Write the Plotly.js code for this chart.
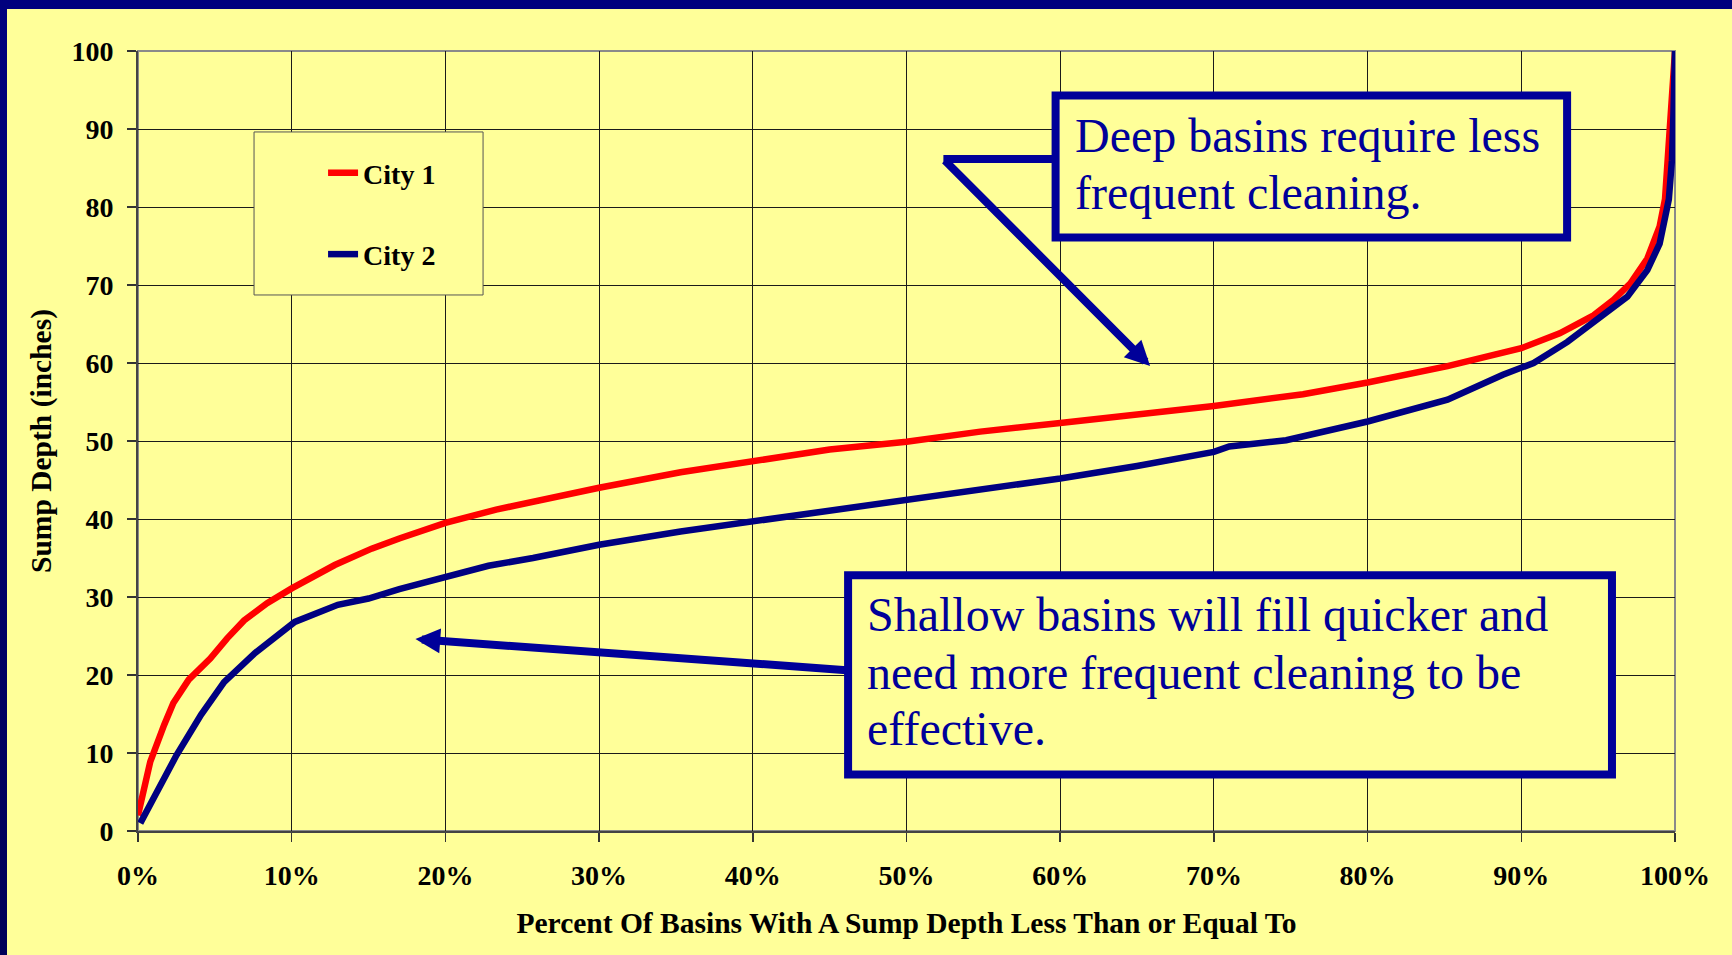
<!DOCTYPE html>
<html>
<head>
<meta charset="utf-8">
<script src="https://cdn.plot.ly/plotly-3.0.1.min.js"></script>
<style>
  html, body { margin: 0; padding: 0; width: 1732px; height: 955px; overflow: hidden;
    background: linear-gradient(to bottom, #00007e, #000058); }
  #chart { position: absolute; left: 7px; top: 9px; width: 1725px; height: 946px; }
</style>
</head>
<body>
<div id="chart"></div>
<script>
// ---- Data ----
const seriesNames = ['City 1', 'City 2'];

const city1Pct = [0, 0.8, 1.7, 2.3, 3.3, 4.7, 5.8, 6.9, 8.4, 10, 12.8, 15.2, 17, 20, 23.3, 26.8, 30, 35.3, 40, 45, 50, 54.8, 60, 65, 70, 75.8, 80, 85.2, 90, 92.5, 94.7, 96, 97.1, 98.2, 99, 99.35, 99.6, 99.8, 100];
const city1Depth = [2, 8.9, 13.6, 16.4, 19.4, 22.1, 24.7, 27, 29.2, 31.1, 34.1, 36.2, 37.5, 39.5, 41.2, 42.7, 44, 46, 47.4, 48.9, 49.9, 51.2, 52.3, 53.4, 54.5, 56, 57.5, 59.6, 61.9, 63.8, 66.1, 68.1, 70.2, 73.4, 77.5, 81, 89, 94, 100];

const city2Pct = [0.15, 1.2, 2.5, 4.1, 5.6, 7.6, 10.2, 13, 15, 17, 20, 22.8, 25.7, 30, 35.3, 40, 45, 50, 54.8, 60, 65, 70, 71, 74.7, 80, 85.2, 88.8, 90.8, 93, 94.9, 96.9, 98.2, 99, 99.6, 99.8, 99.9, 100];
const city2Depth = [1, 5, 9.7, 14.9, 19.1, 22.8, 26.8, 29, 29.8, 31, 32.6, 34, 35, 36.7, 38.4, 39.7, 41, 42.4, 43.9, 45.2, 46.8, 48.6, 49.3, 50.1, 52.5, 55.3, 58.5, 60, 62.7, 65.5, 68.5, 71.9, 75.3, 81, 86, 92, 100];

const xTitle = 'Percent Of Basins With A Sump Depth Less Than or Equal To';
const yTitle = 'Sump Depth (inches)';

const note1Lines = ['Deep basins require less', 'frequent cleaning.'];
const note2Lines = ['Shallow basins will fill quicker and', 'need more frequent cleaning to be', 'effective.'];

// ---- Styling / placement ----
const serif = 'Liberation Serif, Times New Roman, serif';
const ink = '#000099';
const bg = '#FFFF99';

const traces = [
  { x: city1Pct, y: city1Depth, name: seriesNames[0], type: 'scatter', mode: 'lines',
    line: { color: '#FF0000', width: 6.5 }, legendgroup: 'a' },
  { x: city2Pct, y: city2Depth, name: seriesNames[1], type: 'scatter', mode: 'lines',
    line: { color: '#000080', width: 6.5 }, legendgroup: 'b' }
];

const note1TextX = 60.85, note1TextY = [89.2, 81.9];
const note2TextX = 47.3, note2TextY = [27.7, 20.35, 13.15];

const annotations = [];
note1Lines.forEach((t, i) => annotations.push({
  x: note1TextX, y: note1TextY[i], xref: 'x', yref: 'y', text: t, showarrow: false,
  xanchor: 'left', yanchor: 'middle', font: { family: serif, size: 48, color: ink }
}));
note2Lines.forEach((t, i) => annotations.push({
  x: note2TextX, y: note2TextY[i], xref: 'x', yref: 'y', text: t, showarrow: false,
  xanchor: 'left', yanchor: 'middle', font: { family: serif, size: 48, color: ink }
}));
// arrows
annotations.push({
  x: 65.85, y: 59.6, ax: 52.4, ay: 86.15, xref: 'x', yref: 'y', axref: 'x', ayref: 'y',
  text: '', showarrow: true, arrowhead: 2, arrowsize: 0.62, arrowwidth: 8, arrowcolor: ink, standoff: 0
});
annotations.push({
  x: 18.05, y: 24.6, ax: 46.2, ay: 20.6, xref: 'x', yref: 'y', axref: 'x', ayref: 'y',
  text: '', showarrow: true, arrowhead: 2, arrowsize: 0.62, arrowwidth: 8, arrowcolor: ink, standoff: 0
});

const shapes = [
  // plot frame (top/right light grey)
  { type: 'rect', xref: 'paper', yref: 'paper', x0: 0, x1: 1, y0: 0, y1: 1,
    line: { color: '#8a8a8a', width: 2 }, layer: 'below' },
  // legend frame
  { type: 'rect', xref: 'paper', yref: 'paper', x0: 0.0755, x1: 0.2245, y0: 0.6872, y1: 0.8962,
    fillcolor: bg, line: { color: '#555555', width: 1 }, layer: 'above' },
  // note boxes
  { type: 'rect', xref: 'x', yref: 'y', x0: 59.7, x1: 92.98, y0: 76.1, y1: 94.3,
    fillcolor: bg, line: { color: ink, width: 8 }, layer: 'above' },
  { type: 'rect', xref: 'x', yref: 'y', x0: 46.2, x1: 95.9, y0: 7.24, y1: 32.8,
    fillcolor: bg, line: { color: ink, width: 8 }, layer: 'above' },
  // elbow of first arrow
  { type: 'line', xref: 'x', yref: 'y', x0: 59.7, x1: 52.4, y0: 86.15, y1: 86.15,
    line: { color: ink, width: 8 }, layer: 'above' }
];

const layout = {
  width: 1725, height: 946,
  paper_bgcolor: bg, plot_bgcolor: bg,
  margin: { l: 131, r: 57, t: 42, b: 124 },
  font: { family: serif, color: '#000000' },
  showlegend: true,
  legend: {
    x: 0.1204, y: 0.8756, xanchor: 'left', yanchor: 'top',
    bgcolor: 'rgba(0,0,0,0)', borderwidth: 0,
    font: { family: serif, size: 28, weight: 'bold', color: '#000' },
    tracegroupgap: 42, traceorder: 'grouped', itemwidth: 30
  },
  xaxis: {
    range: [0, 100], dtick: 10, tick0: 0, ticksuffix: '%',
    showgrid: true, gridcolor: '#1a1a1a', gridwidth: 1,
    showline: true, linecolor: '#444444', linewidth: 2,
    ticks: 'outside', ticklen: 9, tickwidth: 1.5, tickcolor: '#333333',
    tickfont: { family: serif, size: 28, weight: 'bold', color: '#000' },
    ticklabelstandoff: 9,
    zeroline: false, fixedrange: true,
    title: { text: xTitle, font: { family: serif, size: 29.5, weight: 'bold', color: '#000' }, standoff: 23 }
  },
  yaxis: {
    range: [0, 100], dtick: 10, tick0: 0,
    showgrid: true, gridcolor: '#1a1a1a', gridwidth: 1,
    showline: true, linecolor: '#444444', linewidth: 2,
    ticks: 'outside', ticklen: 9, tickwidth: 1.5, tickcolor: '#333333',
    tickfont: { family: serif, size: 28, weight: 'bold', color: '#000' },
    ticklabelstandoff: 8,
    zeroline: false, fixedrange: true,
    title: { text: yTitle, font: { family: serif, size: 29.5, weight: 'bold', color: '#000' }, standoff: 11 }
  },
  annotations: annotations,
  shapes: shapes
};

Plotly.newPlot('chart', traces, layout, { displayModeBar: false, staticPlot: true });
</script>
</body>
</html>
